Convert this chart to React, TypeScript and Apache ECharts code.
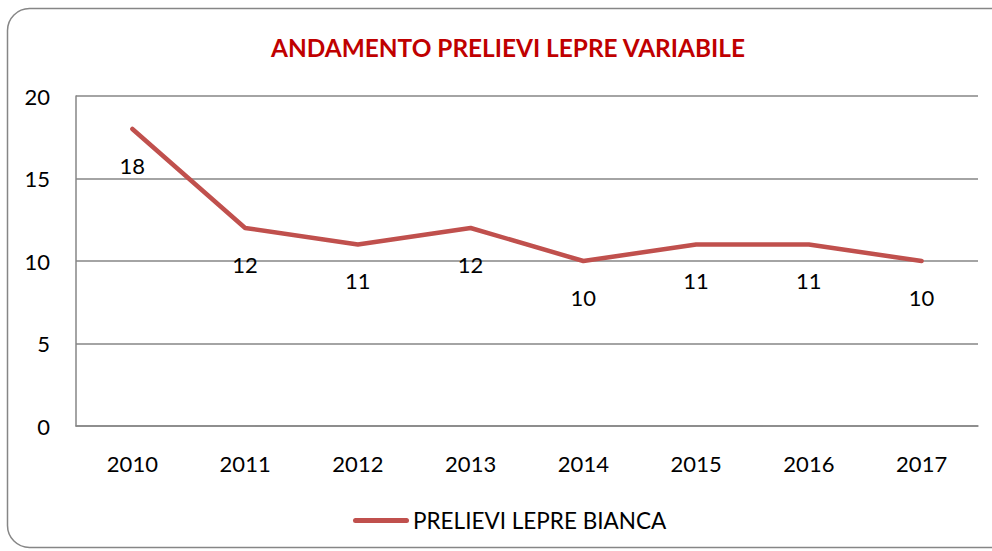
import React, { useEffect, useRef } from "react";
import * as echarts from "echarts";

const categories = ["2010", "2011", "2012", "2013", "2014", "2015", "2016", "2017"];
const values = [18, 12, 11, 12, 10, 11, 11, 10];
const seriesName = "PRELIEVI LEPRE BIANCA";
const titleText = "ANDAMENTO PRELIEVI LEPRE VARIABILE";

const FONT = "Lato";

export default function App() {
  const ref = useRef<HTMLDivElement>(null);
  useEffect(() => {
    if (!ref.current) return;
    const chart = echarts.init(ref.current, null, { renderer: "svg" });
    chart.setOption({
      animation: false,
      textStyle: { fontFamily: FONT },
      graphic: [
        {
          type: "rect",
          shape: { x: 7.5, y: 8.5, width: 1010, height: 539, r: 22 },
          style: { fill: "none", stroke: "#868686", lineWidth: 1.5 },
          silent: true,
          z: -1,
        },
        {
          type: "text",
          x: 508,
          y: 47,
          style: {
            text: titleText,
            fill: "#C00000",
            font: `bold 24.4px ${FONT}`,
            textAlign: "center",
            textVerticalAlign: "middle",
          },
        },
      ],
      grid: { left: 76, right: 14, top: 96, bottom: 125, containLabel: false },
      legend: {
        left: 348,
        top: 504,
        itemWidth: 56,
        itemHeight: 5,
        itemGap: 5,
        data: [
          {
            name: seriesName,
            icon: "path://M2.5,0 H53.5 A2.5,2.5 0 0 1 53.5,5 H2.5 A2.5,2.5 0 0 1 2.5,0 Z",
            itemStyle: { color: "#C0504D", opacity: 1 },
          },
        ],
        textStyle: { fontFamily: FONT, fontSize: 22.5, color: "#000", padding: [0, 0, 0, -1] },
      },
      xAxis: {
        type: "category",
        data: categories,
        boundaryGap: true,
        axisLine: { lineStyle: { color: "#868686", width: 1.5 } },
        axisTick: { show: false },
        axisLabel: { color: "#000", fontSize: 22, fontFamily: FONT, margin: 26 },
      },
      yAxis: {
        type: "value",
        min: 0,
        max: 20,
        interval: 5,
        axisLine: { show: true, lineStyle: { color: "#868686", width: 1.5 } },
        axisTick: { show: false },
        splitLine: { lineStyle: { color: "#868686", width: 1.5 } },
        axisLabel: { color: "#000", fontSize: 22, fontFamily: FONT, margin: 26 },
      },
      series: [
        {
          name: seriesName,
          type: "line",
          data: values,
          symbol: "circle",
          symbolSize: 0.1,
          showSymbol: true,
          itemStyle: { color: "#C0504D" },
          lineStyle: { color: "#C0504D", width: 4.5, cap: "round", join: "round" },
          color: "#C0504D",
          label: {
            show: true,
            position: "inside",
            offset: [0, 36],
            color: "#000",
            fontSize: 22,
            fontFamily: FONT,
          },
        },
      ],
    });
    return () => chart.dispose();
  }, []);
  return (
    <div
      ref={ref}
      style={{ position: "fixed", left: 0, top: 0, width: 992, height: 551, background: "#fff" }}
    />
  );
}
